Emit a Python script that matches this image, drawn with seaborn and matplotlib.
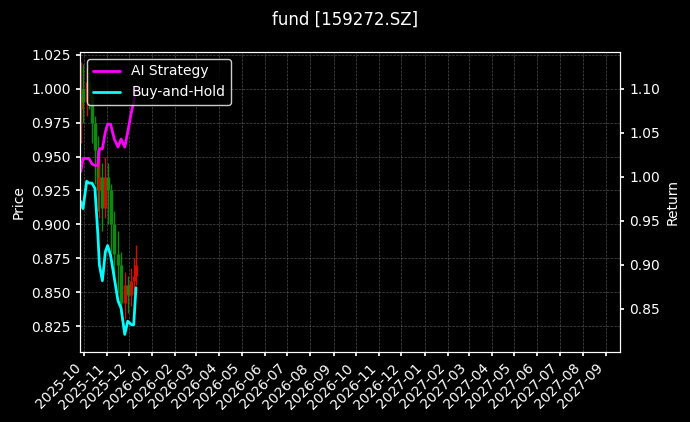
import matplotlib
matplotlib.use("Agg")
import matplotlib.pyplot as plt
import matplotlib.dates as mdates
import seaborn as sns
import pandas as pd
import numpy as np

sns.set_theme(style="dark")
plt.rcParams['font.family'] = ['DejaVu Sans']

xpix = [81, 83, 87, 89, 92, 95, 98, 100, 103, 106, 108, 111, 115, 118, 121, 125, 128, 132, 134, 136]
dates = [pd.Timestamp("2025-10-01") + pd.Timedelta(days=round((x - 84) / 0.747)) for x in xpix]
bh = [0.972, 0.964, 0.995, 0.993, 0.993, 0.987, 0.934, 0.900, 0.882, 0.915, 0.922, 0.911, 0.885, 0.859, 0.851, 0.821, 0.836, 0.832, 0.832, 0.874]
ai = [1.006, 1.021, 1.021, 1.021, 1.015, 1.013, 1.013, 1.032, 1.032, 1.051, 1.060, 1.060, 1.043, 1.034, 1.043, 1.034, 1.051, 1.074, 1.085, 1.103]
opens = [0.985, 1.000, 0.990, 1.005, 0.995, 0.975, 0.955, 0.925, 0.935, 0.912, 0.935, 0.925, 0.900, 0.878, 0.870, 0.842, 0.855, 0.848, 0.858, 0.862]
closes = [1.000, 0.990, 1.005, 0.995, 0.975, 0.955, 0.925, 0.935, 0.912, 0.935, 0.925, 0.900, 0.878, 0.870, 0.842, 0.855, 0.848, 0.858, 0.862, 0.870]
highs = [1.020, 1.018, 1.015, 1.012, 1.000, 0.980, 0.965, 0.950, 0.945, 0.950, 0.945, 0.930, 0.910, 0.895, 0.880, 0.865, 0.862, 0.868, 0.875, 0.885]
lows = [0.960, 0.975, 0.980, 0.985, 0.960, 0.930, 0.910, 0.905, 0.895, 0.905, 0.900, 0.880, 0.860, 0.850, 0.835, 0.830, 0.835, 0.840, 0.845, 0.855]

fig = plt.figure(figsize=(6.9, 4.22), dpi=100, facecolor="black")
ax = fig.add_axes([80/690, 1 - 352/422, 540/690, 300/422], facecolor="black")
for d, o, c, h, l in zip(dates, opens, closes, highs, lows):
    col = "#cc1100" if c >= o else "#118811"
    ax.vlines(d, l, h, color=col, lw=1)
    ax.vlines(d, min(o, c), max(o, c), color=col, lw=2.5)
ax.set_ylim(0.806, 1.027)
ax.set_xlim(pd.Timestamp("2025-09-26"), pd.Timestamp("2027-09-20"))
ax.set_ylabel("Price", color="white", fontsize=10)
ax.xaxis.set_major_locator(mdates.MonthLocator())
ax.xaxis.set_major_formatter(mdates.DateFormatter("%Y-%m"))
plt.setp(ax.get_xticklabels(), rotation=45, ha="right")

ax2 = ax.twinx()
df = pd.DataFrame({"date": dates, "AI Strategy": ai, "Buy-and-Hold": bh})
sns.lineplot(data=df, x="date", y="AI Strategy", ax=ax2, color="#ff00ff", lw=2, label="AI Strategy", legend=False)
sns.lineplot(data=df, x="date", y="Buy-and-Hold", ax=ax2, color="#00ffff", lw=2, label="Buy-and-Hold", legend=False)
ax2.set_ylim(0.801, 1.142)
ax2.set_ylabel("Return", color="white", fontsize=10)
ax2.set_xlabel("")

for a in (ax, ax2):
    a.tick_params(colors="white", labelsize=10, length=3, left=(a is ax), right=(a is ax2), bottom=True)
    for s in a.spines.values():
        s.set_color("white")
        s.set_linewidth(0.8)
        s.set_visible(True)
ax.grid(True, color="gray", ls="--", lw=0.5, alpha=0.6)
ax2.grid(False)
ax.set_xlabel("")

h, lab = ax2.get_legend_handles_labels()
leg = ax2.legend(h, lab, loc="upper left", facecolor="black", edgecolor="white", framealpha=0.8, fontsize=10)
for t in leg.get_texts():
    t.set_color("white")
fig.suptitle("fund [159272.SZ]", color="white", fontsize=12, y=0.975)
fig.savefig("out.png", dpi=100, facecolor="black")
